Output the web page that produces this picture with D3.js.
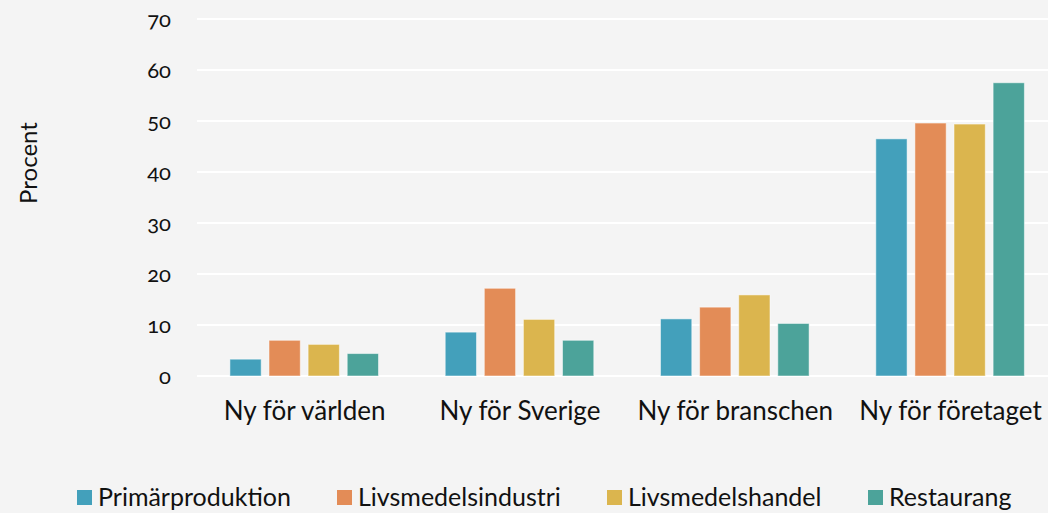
<!DOCTYPE html>
<html>
<head>
<meta charset="utf-8">
<script src="https://cdn.jsdelivr.net/npm/d3@7"></script>
<style>
  body { margin: 0; background: #f4f4f4; }
  svg text { font-family: Lato, "Open Sans", sans-serif; fill: #111; }
  .tick-y { font-feature-settings: "onum"; font-variant-numeric: oldstyle-nums; }
</style>
</head>
<body>
<div id="container"></div>
<script>
// chart data
var categories = ["Ny för världen", "Ny för Sverige", "Ny för branschen", "Ny för företaget"];
var seriesNames = ["Primärproduktion", "Livsmedelsindustri", "Livsmedelshandel", "Restaurang"];
var primar = [3.3, 8.6, 11.2, 46.5];
var industri = [7.0, 17.2, 13.5, 49.6];
var handel = [6.2, 11.1, 15.9, 49.4];
var restaurang = [4.4, 7.0, 10.3, 57.5];
var yTicks = [0, 10, 20, 30, 40, 50, 60, 70];
var colors = ["#43a0bb", "#e38c57", "#dbb54e", "#4ca39a"];

var seriesValues = [primar, industri, handel, restaurang];

var w = 1048, h = 513;

var svg = d3.select("#container")
  .append("svg")
  .attr("width", w)
  .attr("height", h);

svg.append("rect").attr("width", w).attr("height", h).attr("fill", "#f4f4f4");

var yScale = d3.scaleLinear().domain([0, 70]).range([376, 19]);

var x0 = d3.scaleBand()
  .domain(categories)
  .range([197, 197 + 4 * 215.3])
  .paddingInner(0)
  .paddingOuter(0);

var x1 = d3.scaleBand()
  .domain(seriesNames)
  .range([29, 29 + 4 * 39.1])
  .paddingInner(0.2)
  .paddingOuter(0.1);

//gridlines
svg.append("g").selectAll("line")
  .data(yTicks)
  .enter()
  .append("line")
  .attr("x1", 197)
  .attr("x2", w)
  .attr("y1", function(d) { return yScale(d); })
  .attr("y2", function(d) { return yScale(d); })
  .attr("stroke", "#ffffff")
  .attr("stroke-width", 2);

//y labels
svg.append("g").selectAll("text")
  .data(yTicks)
  .enter()
  .append("text")
  .attr("class", "tick-y")
  .attr("x", 171)
  .attr("y", function(d) { return yScale(d); })
  .attr("dy", "0.35em")
  .attr("text-anchor", "end")
  .attr("font-size", "22px")
  .text(function(d) { return d; });

svg.append("text")
  .attr("transform", "translate(37,163) rotate(-90)")
  .attr("text-anchor", "middle")
  .attr("font-size", "24px")
  .text("Procent");

//bars
var groups = svg.append("g").selectAll("g")
  .data(categories)
  .enter()
  .append("g")
  .attr("transform", function(d) { return "translate(" + x0(d) + ",0)"; });

groups.selectAll("rect")
  .data(function(d, i) {
    return seriesNames.map(function(s, j) { return { s: s, v: seriesValues[j][i], c: colors[j] }; });
  })
  .enter()
  .append("rect")
  .attr("x", function(d) { return x1(d.s); })
  .attr("width", x1.bandwidth())
  .attr("y", function(d) { return yScale(d.v); })
  .attr("height", function(d) { return yScale(0) - yScale(d.v); })
  .attr("fill", function(d) { return d.c; })
  .attr("stroke", "rgba(255,255,255,0.5)")
  .attr("stroke-width", 1);

//category labels
svg.append("g").selectAll("text")
  .data(categories)
  .enter()
  .append("text")
  .attr("x", function(d) { return x0(d) + x0.bandwidth() / 2; })
  .attr("y", 420)
  .attr("text-anchor", "middle")
  .attr("font-size", "26px")
  .text(function(d) { return d; });

//legend
var legendX = [77, 337, 607, 868];
var legend = svg.append("g").selectAll("g")
  .data(seriesNames)
  .enter()
  .append("g")
  .attr("transform", function(d, i) { return "translate(" + legendX[i] + ",490)"; });

legend.append("rect")
  .attr("width", 15)
  .attr("height", 15)
  .attr("fill", function(d, i) { return colors[i]; });

legend.append("text")
  .attr("x", 21)
  .attr("y", 16)
  .attr("font-size", "25px")
  .text(function(d) { return d; });
</script>
</body>
</html>
